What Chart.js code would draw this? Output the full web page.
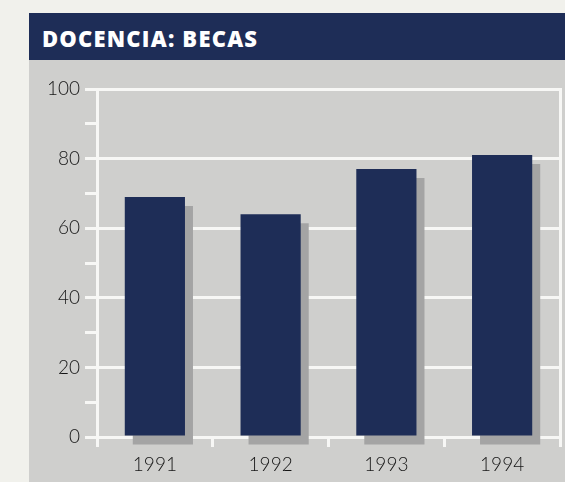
<!DOCTYPE html>
<html>
<head>
<meta charset="utf-8">
<script src="https://cdn.jsdelivr.net/npm/chart.js@4"></script>
<style>
  body { margin: 0; background: #f1f1ec; width: 565px; height: 482px; overflow: hidden; position: relative; }
  #header { position: absolute; left: 29px; top: 13px; width: 536px; height: 47px; background: #1e2d57; }
  #header span { position: absolute; left: 13px; top: 10px; color: #fff; font: 800 22px "Open Sans", sans-serif; letter-spacing: 1.2px; }
  #panel { position: absolute; left: 29px; top: 60px; width: 536px; height: 422px; background: #cfcfcd; }
</style>
</head>
<body>
<div id="header"><span>DOCENCIA: BECAS</span></div>
<div id="panel"><canvas id="chart" width="536" height="422"></canvas></div>
<script>
const years = ["1991", "1992", "1993", "1994"];
const becas = [69, 64, 77, 81];

const navy = "#1e2d57";
const shadow = "#a4a4a4";
const white = "#f7f7f5";

// gray drop shadow under each bar
const barShadow = {
    id: "barShadow",
    beforeDatasetDraw(chart) {
        const ctx = chart.ctx;
        ctx.save();
        ctx.shadowColor = shadow;
        ctx.shadowOffsetX = 8;
        ctx.shadowOffsetY = 9;
        ctx.shadowBlur = 0;
    },
    afterDatasetDraw(chart) {
        chart.ctx.restore();
    }
};

new Chart(document.getElementById("chart"), {
    type: "bar",
    data: {
        labels: years,
        datasets: [{
            data: becas,
            backgroundColor: navy,
            categoryPercentage: 0.52,
            barPercentage: 1,
            clip: false,
        }]
    },
    options: {
        responsive: false,
        animation: false,
        layout: { padding: { top: 29, right: 5, left: 0, bottom: 0 } },
        plugins: { legend: { display: false }, tooltip: { enabled: false } },
        scales: {
            x: {
                grid: { drawOnChartArea: false, color: white, lineWidth: 3, tickLength: 10, offset: true },
                border: { display: true, color: white, width: 3 },
                ticks: { color: "#151515", font: { family: "Lato", size: 19, weight: 300 }, padding: 6 },
                afterFit(s) { s.height = 45; }
            },
            y: {
                min: 0,
                max: 100,
                grid: {
                    color: (c) => (c.tick && c.tick.value % 20 === 0) ? white : "rgba(0,0,0,0)",
                    tickColor: white,
                    lineWidth: 3,
                    tickLength: 12
                },
                border: { display: true, color: white, width: 3 },
                ticks: {
                    stepSize: 10,
                    color: "#151515",
                    font: { family: "Lato", size: 19, weight: 300 },
                    padding: 5,
                    callback: (v) => v % 20 === 0 ? v : ""
                },
                afterFit(s) { s.width = 68; }
            },
            right: {
                position: "right",
                min: 0,
                max: 100,
                grid: { display: false },
                border: { display: true, color: white, width: 3 },
                ticks: { display: false },
                afterFit(s) { s.width = 0; }
            }
        }
    },
    plugins: [barShadow]
});
</script>
</body>
</html>
